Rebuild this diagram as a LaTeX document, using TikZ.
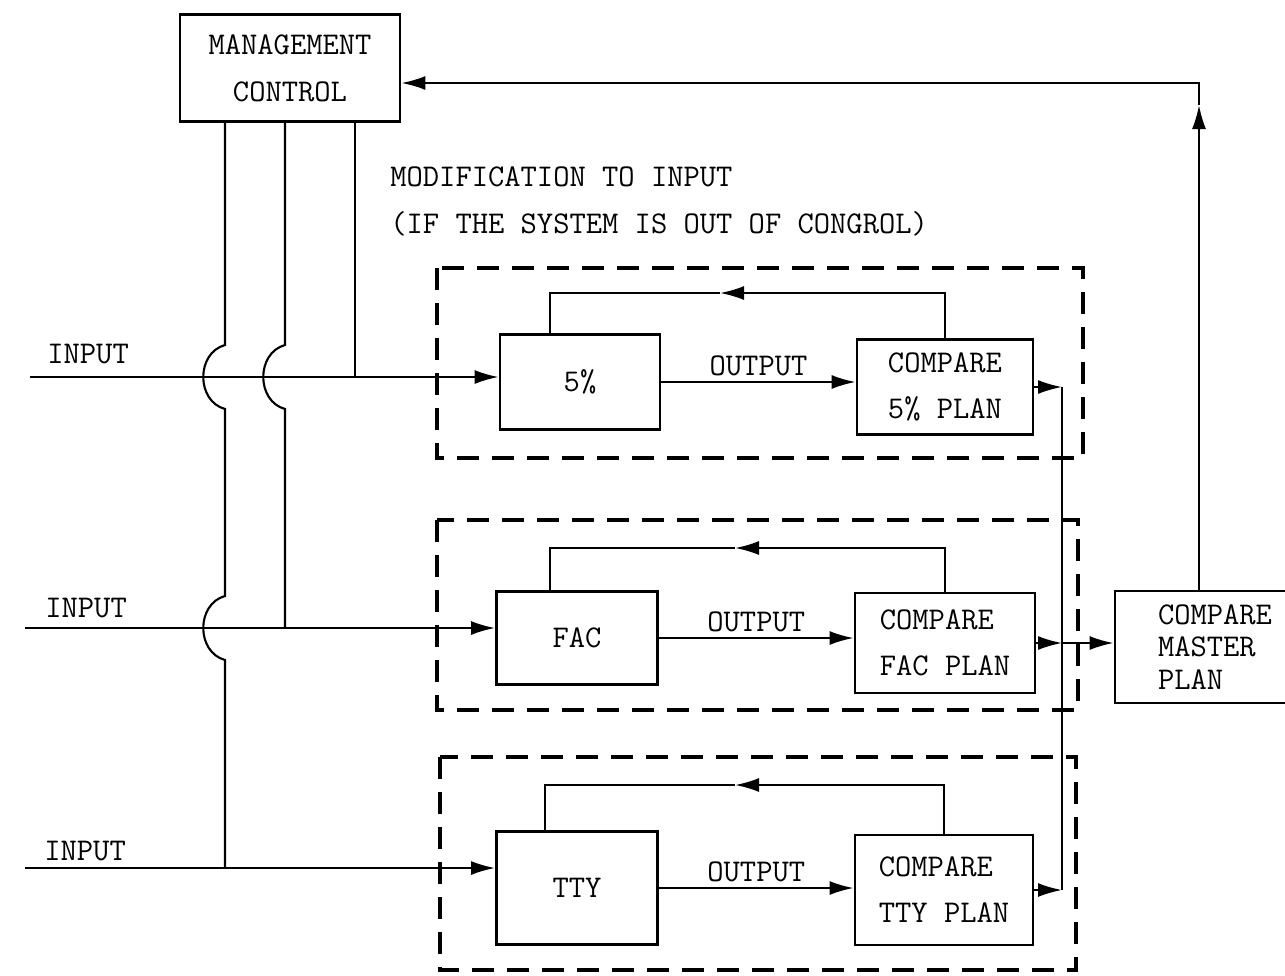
\documentclass[tikz,border=0pt]{standalone}
\usetikzlibrary{arrows.meta,positioning}

\tikzset{
  blk/.style={draw, line width=1.6pt, align=center, inner sep=0pt,
    font=\ttfamily\fontsize{18}{20}\selectfont},
  lbl/.style={inner sep=0pt, font=\ttfamily\fontsize{18}{20}\selectfont},
  con/.style={line width=1.2pt},
  arr/.style={con, -{Latex[length=4.8mm,width=2.8mm]}},
  grp/.style={line width=1.8pt, dash pattern=on 4.4mm off 2.6mm}
}

\begin{document}
\begin{tikzpicture}[x=0.2mm, y=-0.2mm]
  \clip (0,0) rectangle (1285,975);

  % Management
  \node[blk, minimum width=4.4cm, minimum height=2.14cm] (mgmt) at (290,68) {MANAGEMENT\\[2.4mm]CONTROL};
  \node[lbl, anchor=west] (modtxt) at (390,177) {MODIFICATION TO INPUT};
  \node[lbl, anchor=west] (iftxt) at (390,224) {(IF THE SYSTEM IS OUT OF CONGROL)};

  % 5% loop
  \draw[grp] (437,268) rectangle (1083,458);
  \node[blk, minimum width=3.2cm, minimum height=1.9cm] (box5) at (580,382) {5\%};
  \node[blk, minimum width=3.52cm, minimum height=1.9cm] (cmp5) at (945,387) {COMPARE\\[2.2mm]5\% PLAN};
  \draw[arr] (box5.east) -- (box5.east -| cmp5.west) node[midway, above=3pt, lbl] (out5) {OUTPUT};
  \coordinate (fb5) at (720,293);
  \draw[arr] (cmp5.north) |- (fb5);
  \draw[con] (fb5) -| ([xshift=-6mm]box5.north);

  % FAC loop
  \draw[grp] (437,520) rectangle (1078,710);
  \node[blk, minimum width=3.22cm, minimum height=1.86cm] (boxF) at (577,638) {FAC};
  \node[blk, minimum width=3.6cm, minimum height=2cm, align=left] (cmpF) at (945,643) {COMPARE\\[2.2mm]FAC PLAN};
  \draw[arr] (boxF.east) -- (boxF.east -| cmpF.west) node[midway, above=3pt, lbl] (outF) {OUTPUT};
  \coordinate (fbF) at (735,548);
  \draw[arr] (cmpF.north) |- (fbF);
  \draw[con] (fbF) -| ([xshift=-5.4mm]boxF.north);

  % TTY loop
  \draw[grp] (440,757) rectangle (1076,970);
  \node[blk, minimum width=3.22cm, minimum height=2.26cm] (boxT) at (577,888) {TTY};
  \node[blk, minimum width=3.56cm, minimum height=2.2cm, align=left] (cmpT) at (944,890) {COMPARE\\[2.2mm]TTY PLAN};
  \draw[arr] (boxT.east) -- (boxT.east -| cmpT.west) node[midway, above=3pt, lbl] (outT) {OUTPUT};
  \coordinate (fbT) at (735,785);
  \draw[arr] (cmpT.north) |- (fbT);
  \draw[con] (fbT) -| ([xshift=-6.4mm]boxT.north);

  % Master plan
  \node[blk, minimum width=4cm, minimum height=2.24cm, align=left] (master) at (1215,647) {COMPARE\\[-0.5mm]MASTER\\[-0.5mm]PLAN};
  \coordinate (bus) at (1062,0);
  \draw[arr] (cmp5.east) -- (cmp5.east -| bus);
  \draw[con] (cmp5.east -| bus) -- (cmpT.east -| bus);
  \draw[arr] (cmpT.east) -- (cmpT.east -| bus);
  \draw[arr] (cmpF.east) -- (cmpF.east -| bus);
  \draw[arr] (cmpF.east -| bus) -- (cmpF.east -| master.west);
  \coordinate (up) at (1199,105);
  \draw[arr] (master.north -| up) -- (up);
  \draw[arr] (up) |- ([yshift=-3mm]mgmt.east);

  % Inputs
  \coordinate (in1) at (30,377);
  \coordinate (in2) at (25,628);
  \coordinate (in3) at (25,868);
  \node[lbl, anchor=west] (inlbl1) at (47,354) {INPUT};
  \node[lbl, anchor=west] (inlbl2) at (45,608) {INPUT};
  \node[lbl, anchor=west] (inlbl3) at (44,851) {INPUT};
  \draw[arr] (in1) -- (in1 -| box5.west);
  \draw[arr] (in2) -- (in2 -| boxF.west);
  \draw[arr] (in3) -- (in3 -| boxT.west);

  % Modification lines (with hops)
  \coordinate (v1) at ([xshift=-13mm]mgmt.south);
  \coordinate (v2) at ([xshift=-1mm]mgmt.south);
  \coordinate (v3) at ([xshift=13mm]mgmt.south);
  \draw[con] (v3) -- (v3 |- in1);
  \draw[con] (v2) -- (285,345) .. controls (256,353) and (256,401) .. (285,409) -- (v2 |- in2);
  \draw[con] (v1) -- (225,345) .. controls (196,353) and (196,401) .. (225,409)
    -- (225,596) .. controls (196,604) and (196,652) .. (225,660) -- (v1 |- in3);
\end{tikzpicture}
\end{document}
